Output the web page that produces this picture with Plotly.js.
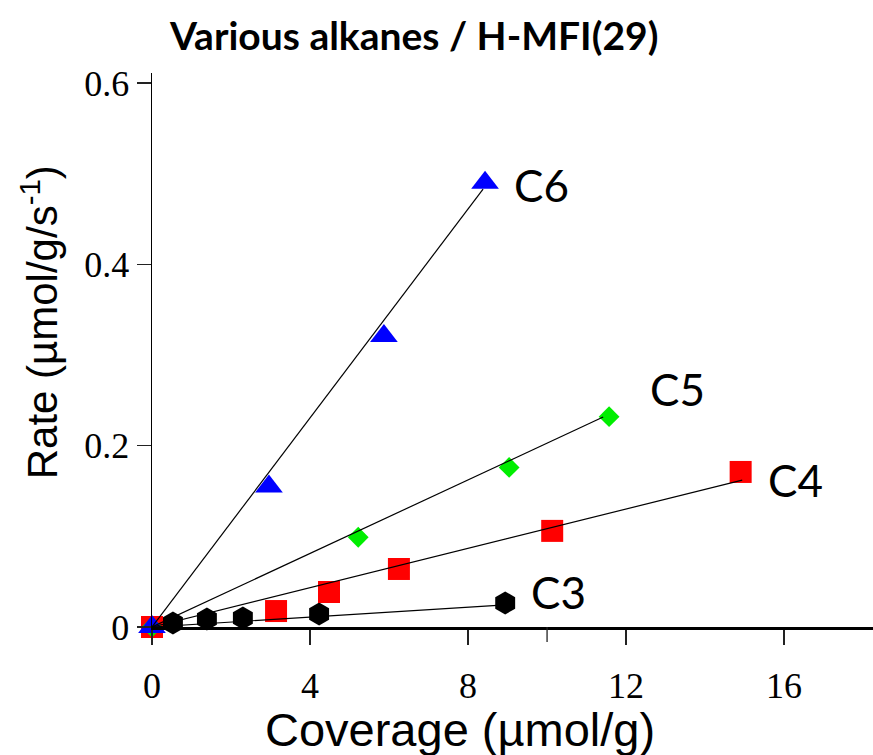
<!DOCTYPE html>
<html>
<head>
<meta charset="utf-8">
<script src="https://cdn.plot.ly/plotly-3.0.1.min.js"></script>
<style>
html,body{margin:0;padding:0;background:#fff;}
#chart{width:873px;height:755px;}
</style>
</head>
<body>
<div id="chart"></div>
<script>
// ---- data ----
const seriesNames = ["C3", "C4", "C5", "C6"];

const c3X = [0.53, 1.39, 2.30, 4.23, 8.94];
const c3Y = [0.0044, 0.0088, 0.0099, 0.0143, 0.0265];

const c4X = [0, 3.14, 4.48, 6.25, 10.13, 14.90];
const c4Y = [0, 0.0176, 0.0386, 0.064, 0.106, 0.171];

const c5X = [0, 5.22, 9.04, 11.57];
const c5Y = [0, 0.099, 0.176, 0.232];

const c6X = [0, 2.96, 5.87, 8.43];
const c6Y = [0, 0.155, 0.321, 0.490];

// fitted lines (origin to end point)
const fitStartX = [0, 0, 0, 0];
const fitStartY = [0, 0, 0, 0];
const fitEndX = [8.94, 14.94, 11.42, 8.38];
const fitEndY = [0.0243, 0.162, 0.2316, 0.483];

// series label positions (data units)
const labelX = [10.3, 16.3, 13.3, 9.85];
const labelY = [0.039, 0.162, 0.262, 0.488];

const xRange = [0, 18.25];
const yRange = [0, 0.611];
const xTickVals = [0, 4, 8, 12, 16];
const xTickText = ["0", "4", "8", "12", "16"];
const xExtraTickVals = [10];
const yTickVals = [0, 0.2, 0.4, 0.6];
const yTickText = ["0", "0.2", "0.4", "0.6"];

const titleText = "Various alkanes / H-MFI(29)";
const xTitle = "Coverage (µmol/g)";
const yTitle = "Rate (µmol/g/s<sup>-1</sup>)";

// ---- layout geometry ----
const W = 873, H = 755;
const M = {l: 152, r: 0, t: 73, b: 128};
const plotH = H - M.t - M.b;
const tickLen = 15;

// ---- traces ----
const markerTraces = [
  {x: c3X, y: c3Y, color: "#000000", symbol: "hexagon", size: 23},
  {x: c4X, y: c4Y, color: "#ff0000", symbol: "square", size: 22},
  {x: c5X, y: c5Y, color: "#00ee00", symbol: "diamond", size: 16},
  {x: c6X, y: c6Y, color: "#0000ff", symbol: "triangle-up", size: 24}
].map((s, i) => ({
  type: "scatter", mode: "markers", name: seriesNames[i],
  x: s.x, y: s.y, cliponaxis: false,
  marker: {color: s.color, symbol: s.symbol, size: s.size, line: {width: 0}},
  hoverinfo: "x+y", showlegend: false
}));

const lineTraces = seriesNames.map((n, i) => ({
  type: "scatter", mode: "lines", name: n + " fit",
  x: [fitStartX[i], fitEndX[i]], y: [fitStartY[i], fitEndY[i]],
  line: {color: "#000", width: 1.2}, cliponaxis: false,
  hoverinfo: "skip", showlegend: false
}));

const labelAnnots = seriesNames.map((n, i) => ({
  x: labelX[i], y: labelY[i], xref: "x", yref: "y",
  text: n, showarrow: false, xanchor: "center", yanchor: "middle",
  font: {family: "Lato, 'Open Sans', sans-serif", size: 44, color: "#000"}
}));

// extra unlabeled tick mark seen on the x axis (paper-referenced so it is not clipped)
const extraTickShapes = xExtraTickVals.map(v => {
  const px = (v - xRange[0]) / (xRange[1] - xRange[0]);
  return {
    type: "line", xref: "paper", yref: "paper",
    x0: px, x1: px, y0: 0, y1: -tickLen / plotH,
    line: {color: "#222", width: 1.3}
  };
});

const layout = {
  width: W, height: H,
  margin: {l: M.l, r: M.r, t: M.t, b: M.b, pad: 0},
  paper_bgcolor: "#fff", plot_bgcolor: "#fff",
  showlegend: false,
  shapes: extraTickShapes,
  xaxis: {
    range: xRange, tickmode: "array", tickvals: xTickVals, ticktext: xTickText,
    ticks: "outside", ticklen: tickLen, tickwidth: 1.3, tickcolor: "#222",
    showline: true, linecolor: "#000", linewidth: 2.5,
    showgrid: false, zeroline: false, ticklabelstandoff: 10,
    tickfont: {family: "'Liberation Serif', 'Times New Roman', serif", size: 36, color: "#000"}
  },
  yaxis: {
    range: yRange, tickmode: "array", tickvals: yTickVals, ticktext: yTickText,
    ticks: "outside", ticklen: 14, tickwidth: 1.3, tickcolor: "#222",
    showline: true, linecolor: "#000", linewidth: 1.5,
    showgrid: false, zeroline: false, ticklabelstandoff: 0,
    tickfont: {family: "'Liberation Serif', 'Times New Roman', serif", size: 36, color: "#000"}
  },
  annotations: labelAnnots.concat([
    {xref: "paper", yref: "paper", x: 0, xshift: 261, y: 1, yshift: 38,
     text: "<b>" + titleText + "</b>", showarrow: false, xanchor: "center", yanchor: "middle",
     font: {family: "Lato, 'Open Sans', sans-serif", size: 39, color: "#000"}},
    {xref: "paper", yref: "paper", x: 0, xshift: 308, y: 0, yshift: -102,
     text: xTitle, showarrow: false, xanchor: "center", yanchor: "middle",
     font: {family: "'Liberation Sans', Arial, sans-serif", size: 47, color: "#000"}},
    {xref: "paper", yref: "paper", x: 0, xshift: -112, y: 0.55,
     text: yTitle, showarrow: false, xanchor: "center", yanchor: "middle", textangle: -90,
     font: {family: "'Liberation Sans', Arial, sans-serif", size: 42, color: "#000"}}
  ])
};

Plotly.newPlot("chart", markerTraces.concat(lineTraces), layout, {displayModeBar: false, staticPlot: true});
</script>
</body>
</html>
